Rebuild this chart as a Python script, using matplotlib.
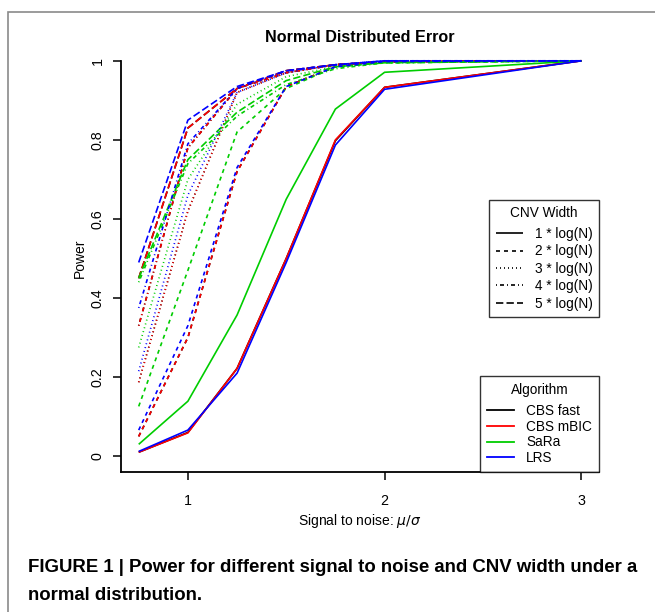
import matplotlib
matplotlib.use("Agg")
import matplotlib.pyplot as plt
from matplotlib.lines import Line2D
from matplotlib.patches import Rectangle

plt.rcParams['font.family'] = ['Liberation Sans', 'DejaVu Sans']

# ---------------- data ----------------
snr = [0.75, 1, 1.25, 1.5, 1.75, 2, 3]
algorithms = ["CBS fast", "CBS mBIC", "SaRa", "LRS"]
algo_colors = ["#000000", "#FF0000", "#00CD00", "#0000FF"]
widths = ["1 * log(N)", "2 * log(N)", "3 * log(N)", "4 * log(N)", "5 * log(N)"]

# power[algorithm][width]
cbs_fast = [
    [0.010, 0.060, 0.222, 0.500, 0.798, 0.933, 1.0],
    [0.050, 0.300, 0.720, 0.935, 0.985, 0.998, 1.0],
    [0.187, 0.620, 0.920, 0.970, 0.990, 0.998, 1.0],
    [0.330, 0.780, 0.930, 0.970, 0.990, 0.998, 1.0],
    [0.450, 0.830, 0.930, 0.975, 0.990, 0.998, 1.0],
]
cbs_mbic = [
    [0.010, 0.059, 0.222, 0.500, 0.800, 0.933, 1.0],
    [0.050, 0.300, 0.720, 0.935, 0.985, 0.998, 1.0],
    [0.187, 0.620, 0.920, 0.970, 0.990, 0.998, 1.0],
    [0.330, 0.780, 0.930, 0.970, 0.990, 0.998, 1.0],
    [0.450, 0.830, 0.930, 0.975, 0.990, 0.998, 1.0],
]
sara = [
    [0.030, 0.139, 0.357, 0.650, 0.878, 0.971, 1.0],
    [0.126, 0.470, 0.820, 0.930, 0.985, 0.995, 1.0],
    [0.275, 0.700, 0.890, 0.960, 0.985, 0.997, 1.0],
    [0.440, 0.740, 0.860, 0.940, 0.980, 0.995, 1.0],
    [0.450, 0.750, 0.870, 0.950, 0.985, 0.995, 1.0],
]
lrs = [
    [0.012, 0.066, 0.210, 0.490, 0.787, 0.928, 1.0],
    [0.066, 0.330, 0.730, 0.935, 0.985, 0.998, 1.0],
    [0.215, 0.660, 0.920, 0.970, 0.990, 1.000, 1.0],
    [0.375, 0.790, 0.930, 0.975, 0.990, 1.000, 1.0],
    [0.490, 0.850, 0.935, 0.975, 0.990, 1.000, 1.0],
]
power = [cbs_fast, cbs_mbic, sara, lrs]

y_ticks = [0, 0.2, 0.4, 0.6, 0.8, 1]
y_ticklabels = ["0", "0.2", "0.4", "0.6", "0.8", "1"]
x_ticks = [1, 2, 3]
x_ticklabels = ["1", "2", "3"]

# R line types: solid, dashed, dotted, dotdash, longdash
dash_styles = [
    (0, ()),
    (0, (2.4, 2.4)),
    (0, (0.6, 1.8)),
    (0, (0.6, 1.8, 2.4, 1.8)),
    (0, (4.4, 1.9)),
]

W, H = 655, 612
fig = plt.figure(figsize=(W / 100, H / 100), dpi=100)

# outer frame
fig.patches.append(Rectangle((8 / W, -0.1), 1.2, 1 - 12 / H + 0.1,
                             transform=fig.transFigure, fill=False,
                             edgecolor="#8a8a8a", linewidth=1.2))

ax = fig.add_axes([121 / W, 1 - 472 / H, (599 - 121) / W, (472 - 45) / H])
ax.set_xlim(0.66, 3.09)
ax.set_ylim(-0.04, 1.04)

for a, col in enumerate(algo_colors):
    for w in range(len(widths)):
        ax.plot(snr, power[a][w], color=col, linestyle=dash_styles[w],
                linewidth=1.2, solid_joinstyle="miter", dash_capstyle="butt")

for s in ["top", "right"]:
    ax.spines[s].set_visible(False)
ax.spines["left"].set_bounds(-0.04, 1.0)
ax.spines["left"].set_linewidth(1.3)
ax.spines["bottom"].set_linewidth(1.3)

ax.set_yticks(y_ticks)
ax.set_yticklabels(y_ticklabels, rotation=90, va="center")
ax.set_xticks(x_ticks)
ax.set_xticklabels(x_ticklabels)
ax.tick_params(axis="both", length=5.8, width=1.1, labelsize=10.3)
ax.tick_params(axis="y", pad=6)
ax.tick_params(axis="x", pad=10)

ax.set_ylabel("Power", fontsize=10, labelpad=3)
ax.set_xlabel(r"Signal to noise: $\mu/\sigma$", fontsize=10, labelpad=3)
ax.set_title("Normal Distributed Error", fontsize=11.6, fontweight="bold", pad=1)

LEG_FS = 9.8

# legends
lw_handles = [Line2D([], [], color="black", linestyle=dash_styles[i], linewidth=1.2)
              for i in range(len(widths))]
leg1 = ax.legend(lw_handles, widths, title="CNV Width", loc="upper right",
                 bbox_to_anchor=(1.0, (472 - 200) / 427), bbox_transform=ax.transAxes,
                 borderaxespad=0, frameon=True, fancybox=False, fontsize=LEG_FS,
                 title_fontsize=LEG_FS, handlelength=2.0, handletextpad=0.9,
                 labelspacing=0.25, borderpad=0.45)
leg1._legend_box.sep = 0.25 * LEG_FS + 2.5
leg1.get_frame().set_edgecolor("black")
leg1.get_frame().set_linewidth(1.0)
ax.add_artist(leg1)

al_handles = [Line2D([], [], color=c, linewidth=1.3) for c in algo_colors]
leg2 = ax.legend(al_handles, algorithms, title="Algorithm", loc="lower right",
                 bbox_to_anchor=(1.0, 0.0), bbox_transform=ax.transAxes,
                 borderaxespad=0, frameon=True, fancybox=False, fontsize=LEG_FS,
                 title_fontsize=LEG_FS, handlelength=2.0, handletextpad=0.9,
                 labelspacing=0.13, borderpad=0.5)
leg2._legend_box.sep = 0.13 * LEG_FS + 4.0
leg2.get_frame().set_edgecolor("black")
leg2.get_frame().set_linewidth(1.0)

# caption
cap_font = ['Liberation Sans', 'DejaVu Sans']
fig.text(28 / W, 1 - 568 / H,
         "FIGURE 1 | Power for different signal to noise and CNV width under a",
         family=cap_font, fontweight="bold", fontsize=13.4, va="center", ha="left")
fig.text(28 / W, 1 - 595 / H, "normal distribution.",
         family=cap_font, fontweight="bold", fontsize=13.4, va="center", ha="left")

fig.savefig("out.png", dpi=100)
